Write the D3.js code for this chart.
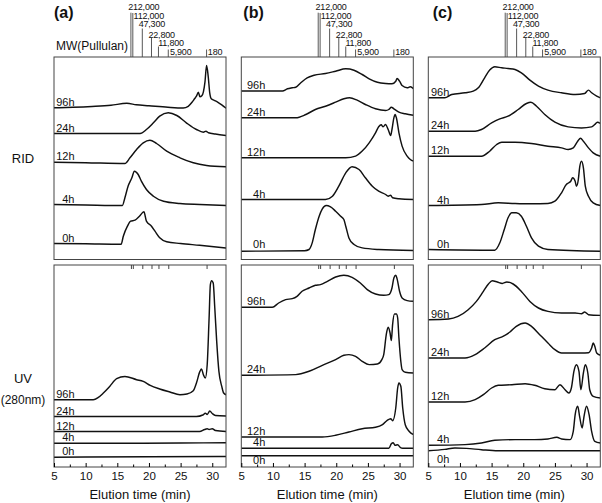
<!DOCTYPE html>
<html>
<head>
<meta charset="utf-8">
<script src="https://cdn.jsdelivr.net/npm/d3@7"></script>
<style>
body { margin: 0; background: #fff; }
text { font-family: "Liberation Sans", Arial, sans-serif; fill: #111; }
</style>
</head>
<body>
<svg id="chart" width="602" height="503"></svg>
<script>
// ---- data ----
const panelNames = ["(a)", "(b)", "(c)"]
const detectors = ["RID", "UV"]
const hours = ["96h", "24h", "12h", "4h", "0h"]
const xTicks = [5, 10, 15, 20, 25, 30]
const xMinorTicks = [7.5, 12.5, 17.5, 22.5, 27.5]
const mwLabels = ["212,000", "112,000", "47,300", "22,800", "11,800", "5,900", "180"]
const mwTimes = [17.15, 17.45, 18.95, 20.4, 21.5, 23.05, 29.1]

// chromatograms: [elution time (min), response above the trace baseline]
const ridA96 = [[5,0],[8,0.5],[11,1.3],[14,2.5],[16.5,4.5],[18,3],[20,2],[23,0.5],[25.4,-0.2],[26.2,1.5],[26.8,5.5],[27.2,9],[27.5,11.6],[27.8,15.6],[28.05,11],[28.35,12],[28.6,16],[28.85,26],[29.1,42.3],[29.35,32],[29.6,15],[29.85,9],[30.3,7.5],[30.9,5.5],[31.5,3],[32.2,-0.5]]
const ridA24 = [[5,0],[12,0],[18.6,0],[19.6,4],[20.7,10.7],[21.7,17.3],[23.05,20.7],[24.4,18],[25.9,10.7],[27.5,4],[28.6,1.3],[29,2.3],[29.4,0.7],[30.5,-0.5],[32.2,-2]]
const ridA12 = [[5,0],[10,-0.5],[16.2,-1.3],[17,4.4],[18.05,12.7],[19.1,19.4],[20.15,22],[21.2,18.7],[22.8,11],[24.9,4.4],[27,-0.6],[29.1,-3.3],[32.2,-4.6]]
const ridA4 = [[5,0],[10,-0.5],[15.8,-1],[16.2,6.7],[16.7,18.3],[17.3,26.7],[17.7,33.3],[18.3,30],[18.8,23.3],[19.6,15],[20.7,8.3],[22.3,3.3],[24.9,1],[28.05,0],[32.2,-1]]
const ridA0 = [[5,0],[10,-0.3],[15.6,-0.8],[15.95,7.3],[16.6,17.3],[17.1,22.3],[17.8,23.3],[18.5,27.3],[19.2,31.7],[19.6,22.3],[20.4,17.3],[20.95,12.3],[21.7,5.7],[22.8,1.7],[25,0],[28,-1.8],[32.2,-4.5]]

const ridB96 = [[5,0],[11.5,0],[12.3,2.2],[13.05,3.2],[13.6,3.8],[14.4,8.2],[15.4,13.2],[16.5,15.8],[18.3,17.5],[19.9,19.8],[21.5,22.2],[22.8,20.8],[24.1,16.5],[25.2,12.2],[26.5,8.8],[27.8,7.5],[28.8,7.2],[29.4,9.8],[29.6,12.5],[30,9.8],[30.4,5.5],[31.2,3.2],[31.7,4.2],[32.2,2.2]]
const ridB24 = [[5,0],[13.6,0],[15.2,3.3],[16.7,8.3],[18.3,11.6],[19.9,15.6],[21.2,19],[22.1,20],[23.3,17.6],[24.6,13.3],[26.2,9],[27.8,7.3],[28.3,8.3],[28.7,10.6],[29.1,9],[29.9,5.6],[30.9,4],[32.2,2.6]]
const ridB12 = [[5,0],[21.5,0],[23.05,1.7],[24.1,6.7],[25.2,15],[26.2,25],[26.7,31],[27.1,33],[27.4,31],[27.8,33.3],[28.2,28.3],[28.6,22.3],[28.8,28.3],[29.1,40],[29.3,43.3],[29.5,40],[29.9,25],[30.4,11.7],[31.2,1.7],[31.7,-1.7],[32.2,-3.3]]
const ridB4 = [[5,0],[18.3,0],[19.4,3.3],[20.4,13.3],[21.5,26.7],[22.5,32.7],[23.6,30],[24.6,21.7],[25.7,13.3],[26.7,8.3],[27.8,5],[28.2,3.3],[28.6,4.3],[28.9,1.7],[29.9,0.7],[32.2,0]]
const ridB0 = [[5,0],[15,0.5],[15.7,1.7],[16.2,8.3],[16.7,21.7],[17.3,35],[17.8,42.3],[18.4,45.7],[19.1,44.3],[19.9,40],[20.7,35],[21.2,31.7],[21.5,25],[22,13.3],[22.8,6.7],[24.1,3.3],[26.7,1.7],[32.2,0.7]]

const ridC96 = [[5,0],[7.6,0],[8.7,3.3],[10.8,5],[12.1,6.7],[12.9,10],[13.9,20],[14.7,27.7],[15.5,31],[16.6,30],[17.6,29.3],[18.7,28.3],[19.7,25],[21.05,17.7],[22.4,11.7],[23.9,7.7],[26.05,5],[28.2,3.3],[29.7,4.3],[30.3,7.7],[30.8,5],[31.6,1.7],[32.2,0]]
const ridC24 = [[5,0],[12.4,0],[13.4,1.7],[15,8.3],[16.3,12.3],[17.6,15],[19.2,21.7],[20.5,27.7],[21.2,29],[22.1,25],[23.4,16.7],[25,9],[27.1,4.3],[29.2,3.3],[30.8,4.3],[31.3,6.7],[31.7,9],[32.2,7.7]]
const ridC12 = [[5,0],[13.4,0],[14.7,5],[15.8,11.7],[16.6,14],[18.7,14],[21.3,12.7],[23.9,10],[26.05,8.3],[27.1,6.7],[27.9,8.3],[28.6,15],[29.05,18],[29.5,15],[30.3,8.3],[31.05,3.3],[32.2,0]]
const ridC4 = [[5,0],[13.4,1],[16.05,2.7],[18.7,2],[21.3,1.7],[23.9,2],[25,4.3],[26.05,12.7],[26.8,21],[27.2,22.7],[27.5,24.3],[27.8,27.7],[28.2,24.3],[28.4,19.3],[28.7,26],[28.9,37.7],[29.2,44.3],[29.5,37.7],[29.8,19.3],[30.3,9.3],[31.05,2.7],[32.2,0]]
const ridC0 = [[5,0],[15.5,-0.7],[16.3,6.7],[17,20],[17.6,31.7],[18.2,36.7],[18.9,36.7],[19.7,33.3],[20.5,23.3],[21.3,11.7],[22.4,3.3],[23.9,0],[32.2,-1.7]]

const uvA96 = [[5,0],[11.2,0],[12,2.3],[12.8,6.7],[13.8,13.3],[14.9,21],[16.2,23.3],[18.05,20],[19.1,18.3],[20.2,14.3],[21.7,10.7],[23.3,7.7],[24.9,5],[26,5.7],[27,9],[27.5,16.7],[28.05,28.3],[28.3,30.7],[28.6,25],[28.9,21.7],[29.2,35],[29.5,81.7],[29.7,115],[29.9,119],[30.15,116.7],[30.4,91.7],[30.7,58.3],[31.05,28.3],[31.5,13.3],[31.8,6.7],[32.2,5]]
const uvA24 = [[5,0],[27.5,0],[28.5,1.5],[28.9,3.3],[29.2,2],[29.6,5.5],[30,3],[30.5,1],[32.2,0.5]]
const uvA12 = [[5,0],[28,0],[28.8,2],[29.2,2.7],[29.5,2],[30,2.8],[30.5,1],[32.2,0]]
const uvA4 = [[5,0],[15,0],[25,0.3],[32.2,0.5]]
const uvA0 = [[5,0],[10,0.3],[20,0.5],[32.2,0.8]]

const uvB96 = [[5,0],[9.9,0],[10.9,4.3],[12,7.7],[13.05,8.7],[13.8,11],[14.6,16],[15.7,19.3],[16.7,22],[17.5,22.7],[18.6,26],[19.9,30.3],[21.2,32],[22.5,30],[23.8,24.3],[24.9,17.7],[26.2,13.3],[27.5,12],[28.3,12.7],[28.8,19.3],[29.1,29.3],[29.4,32],[29.6,28.7],[30,16],[30.4,9.3],[31.2,6.7],[32.2,6]]
const uvB24 = [[5,0],[13.6,0.7],[15.7,4],[17.8,10],[19.9,15.7],[21.2,20],[22,20.7],[23.05,19],[24.1,14],[25.2,10.7],[26.5,11.3],[27.2,15.7],[27.5,20.7],[27.9,40.7],[28.2,48],[28.5,42.3],[28.7,34.7],[28.9,50.7],[29.2,61.3],[29.5,61.3],[29.7,57.3],[29.9,37.3],[30.2,14],[30.4,5.7],[30.9,3],[32.2,2.3]]
const uvB12 = [[5,0],[17.8,0],[19.9,1.7],[22,5],[24.1,8.3],[26.2,9.7],[27.3,12.3],[28.05,16.7],[28.6,18.3],[28.9,16.3],[29.4,29],[29.7,49],[29.9,54],[30.2,50.7],[30.5,29],[30.9,12.3],[31.5,5.7],[32.2,2.3]]
const uvB4 = [[5,0],[28.3,0],[28.7,4.5],[29,5.5],[29.3,3],[29.7,3.5],[30.1,1],[30.5,0],[32.2,0]]
const uvB0 = [[5,0],[32.2,0]]

const uvC96 = [[5,0],[8.2,0.7],[9.7,3.3],[11.3,10],[12.6,18.3],[13.7,28.3],[14.5,35.7],[15.1,39],[15.9,37.7],[16.7,36.3],[17.4,37.7],[18.4,35.7],[19.7,28.3],[21.05,18.3],[22.4,11.7],[23.9,8.3],[26.05,6.7],[28.2,6.7],[29.2,6],[29.7,7.7],[30.3,5],[32.2,4.3]]
const uvC24 = [[5,0],[10.8,0],[12.4,3.3],[13.9,10],[15.5,18.3],[16.8,21.7],[17.9,26],[18.9,31.7],[20.3,35],[21.3,31.7],[22.6,23.3],[23.9,15],[25,8.3],[26.05,5],[29.2,5],[30.3,5.3],[30.8,10],[31.05,15],[31.3,11.7],[31.6,5],[32.2,2.7]]
const uvC12 = [[5,0],[10.8,0],[12.4,2.3],[13.7,7.3],[15,14],[16.05,16.7],[18.2,17.3],[20.3,18.3],[21.8,16.7],[23.4,13.3],[25,12.3],[25.8,17.3],[26.6,12.3],[27.2,9],[27.6,14],[28,30.7],[28.4,37.3],[28.8,30.7],[29.1,12.3],[29.5,29],[29.8,37.3],[30.2,29],[30.5,12.3],[31.05,5.7],[32.2,4]]
const uvC4 = [[5,0],[10.8,0.7],[13.4,2.3],[15.5,5],[18.7,5.7],[21.8,5.7],[23.9,6.3],[25.3,8],[26.05,6.3],[27.4,5.7],[27.9,14],[28.2,30.7],[28.6,39],[28.9,29],[29.3,17.3],[29.6,29],[30,39],[30.4,30.7],[30.8,14],[31.3,4],[32.2,2.3]]
const uvC0 = [[5,0],[7.6,1.3],[9.2,2.7],[11,2.3],[13.4,1],[16,0],[32.2,0]]

// stacking offset of each trace (same units as the response), order = hours
const stackRID = [[151.7, 126, 97.3, 55, 16], [168.5, 141.7, 101.7, 60, 8.3], [161.7, 128.3, 103.3, 54, 10]]
const stackUV = [[67.3, 50.5, 35.5, 23.7, 9.7], [159.7, 91.7, 30, 18.7, 11.3], [147.3, 109, 65, 21.7, 16.3]]

// ---- layout ----
const colX = [54, 241.3, 428.3]
const panelW = 172
const rows = [{top: 57, bottom: 259.5}, {top: 265, bottom: 467}]
const labelRight = [20.5, 24, 21]
const titleDx = [0, 2, 4.4]
const labelDy = [
	[[-2, -2, -2, -2, -2], [-2, -2, -2, -2, -3.5], [-2, -2, -2, -2, -2]],
	[[-2, -2, -2, -2, -2], [-2, -2, -2, -2, 8], [-2, -2, -2, -2, 12]]
]
const mwDx = [-2.7, 0.7, -3.6, -3, -0.3, 1.7, 1.3]
const mwTextY = [10, 18.5, 27, 37.5, 46, 55, 55]
const mwLineTop = [12.7, 13, 28.5, 37.8, 46.5, 49.5, 49.5]

const traces = [
	[[ridA96, ridA24, ridA12, ridA4, ridA0], [ridB96, ridB24, ridB12, ridB4, ridB0], [ridC96, ridC24, ridC12, ridC4, ridC0]],
	[[uvA96, uvA24, uvA12, uvA4, uvA0], [uvB96, uvB24, uvB12, uvB4, uvB0], [uvC96, uvC24, uvC12, uvC4, uvC0]]
]
const stacks = [stackRID, stackUV]

const svg = d3.select("#chart")

const CH = {
	xscale(col) {
		return d3.scaleLinear().domain([5, 32.17]).range([colX[col], colX[col] + panelW])
	},
	yscale(row) {
		let r = rows[row]
		return d3.scaleLinear().domain([0, r.bottom - r.top]).range([r.bottom, r.top])
	},
	drawPanel(row, col) {
		let x = CH.xscale(col)
		let y = CH.yscale(row)
		let r = rows[row]
		let g = svg.append("g").classed("panel", true)

		let clipId = "clip" + row + col
		svg.append("clipPath").attr("id", clipId).append("rect")
			.attr("x", colX[col]).attr("y", r.top).attr("width", panelW).attr("height", r.bottom - r.top)

		let line = d3.line().x(d => x(d.t)).y(d => y(d.v)).curve(d3.curveMonotoneX)

		let data = traces[row][col].map((tr, i) => {
			let off = stacks[row][col][i]
			return {
				label: hours[i],
				off: off,
				dy: labelDy[row][col][i],
				pts: tr.map(p => ({t: p[0], v: p[1] + off}))
			}
		})

		g.selectAll(".trace").data(data).enter().append("path").classed("trace", true)
			.attr("clip-path", "url(#" + clipId + ")")
			.attr("d", d => line(d.pts))
			.style("fill", "none").style("stroke", "#111").style("stroke-width", 1.45)
			.style("stroke-linejoin", "round")

		g.selectAll(".tlabel").data(data).enter().append("text").classed("tlabel", true)
			.attr("x", colX[col] + labelRight[col])
			.attr("y", d => y(d.off) + d.dy)
			.attr("text-anchor", "end").style("font-size", "11px")
			.text(d => d.label)

		g.append("rect").attr("x", colX[col]).attr("y", r.top)
			.attr("width", panelW).attr("height", r.bottom - r.top)
			.style("fill", "none").style("stroke", "#444").style("stroke-width", 1)

		if (row == 1) {
			// MW marks inside UV panel top
			let top = g.append("g").attr("transform", `translate(0,${r.top})`)
				.call(d3.axisTop(x).tickValues(mwTimes).tickSizeInner(-4).tickSizeOuter(0).tickFormat(""))
			top.select(".domain").remove()
			top.selectAll("line").style("stroke", "#444")

			let ax = g.append("g").attr("transform", `translate(0,${r.bottom})`)
				.call(d3.axisBottom(x).tickValues(xTicks).tickSizeInner(-4).tickSizeOuter(0).tickPadding(5))
			ax.select(".domain").remove()
			ax.attr("font-family", null).attr("font-size", null)
			ax.selectAll("text").style("font-size", "11.5px")

			let mn = g.append("g").attr("transform", `translate(0,${r.bottom})`)
				.call(d3.axisBottom(x).tickValues(xMinorTicks).tickSizeInner(-2.5).tickSizeOuter(0).tickFormat(""))
			mn.select(".domain").remove()

			g.append("text").attr("x", colX[col] + panelW / 2).attr("y", 499)
				.attr("text-anchor", "middle").style("font-size", "13px")
				.text("Elution time (min)")
		} else {
			CH.drawMW(g, x, r.top)
		}
	},
	drawMW(g, x, top) {
		let mw = g.selectAll(".mw").data(mwTimes.map((t, i) => ({t: t, label: mwLabels[i], i: i})))
			.enter().append("g").classed("mw", true)
		mw.append("line")
			.attr("x1", d => x(d.t)).attr("x2", d => x(d.t))
			.attr("y1", d => mwLineTop[d.i]).attr("y2", top)
			.style("stroke", "#444").style("stroke-width", 0.9)
		mw.append("text")
			.attr("x", d => x(d.t) + mwDx[d.i]).attr("y", d => mwTextY[d.i])
			.style("font-size", "9px").style("letter-spacing", "-0.2px")
			.text(d => d.label)
	}
}

for (let row = 0; row < 2; row++) {
	for (let col = 0; col < 3; col++) {
		CH.drawPanel(row, col)
	}
}

// panel titles
svg.selectAll(".ptitle").data(panelNames).enter().append("text").classed("ptitle", true)
	.attr("x", (d, i) => colX[i] + titleDx[i]).attr("y", 17.5)
	.style("font-size", "16px").style("font-weight", "bold")
	.text(d => d)

svg.append("text").attr("x", 56).attr("y", 50).style("font-size", "12px").text("MW(Pullulan)")

// detector labels
svg.append("text").attr("x", 23).attr("y", 163).attr("text-anchor", "middle").style("font-size", "13px").text(detectors[0])
svg.append("text").attr("x", 23).attr("y", 383).attr("text-anchor", "middle").style("font-size", "13px").text(detectors[1])
svg.append("text").attr("x", 23).attr("y", 403.5).attr("text-anchor", "middle").style("font-size", "12px").text("(280nm)")
</script>
</body>
</html>
